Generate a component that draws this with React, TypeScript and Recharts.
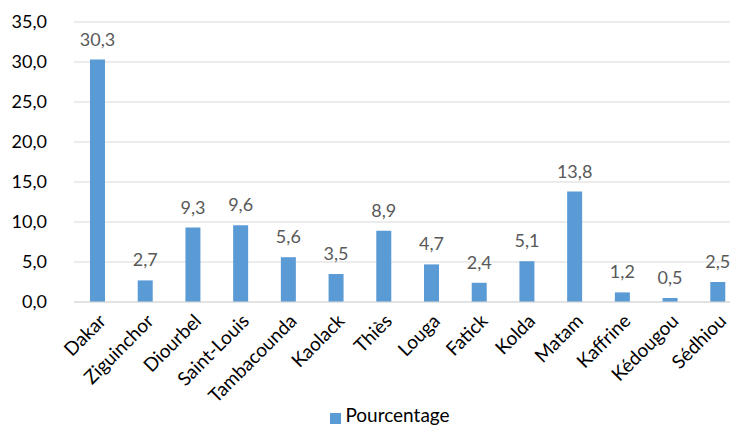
import React from "react";
import {
  BarChart,
  Bar,
  XAxis,
  YAxis,
  CartesianGrid,
  Legend,
  LabelList,
} from "recharts";

const regions = [
  "Dakar",
  "Ziguinchor",
  "Diourbel",
  "Saint-Louis",
  "Tambacounda",
  "Kaolack",
  "Thiès",
  "Louga",
  "Fatick",
  "Kolda",
  "Matam",
  "Kaffrine",
  "Kédougou",
  "Sédhiou",
];

const pourcentage = [30.3, 2.7, 9.3, 9.6, 5.6, 3.5, 8.9, 4.7, 2.4, 5.1, 13.8, 1.2, 0.5, 2.5];

const yTicks = [0, 5, 10, 15, 20, 25, 30, 35];

const data = regions.map((name, i) => ({ name, value: pourcentage[i] }));

const FONT = "Lato, 'Noto Sans', sans-serif";
const BLUE = "#5B9BD5";

const fmt = (v: number) => v.toFixed(1).replace(".", ",");

function RotatedTick(props: any) {
  const { x, y, payload } = props;
  return (
    <g transform={`translate(${x + 5},${y + 8})`}>
      <text
        transform="rotate(-45)"
        textAnchor="end"
        dy={6}
        fill="#000"
        fontSize={19}
        fontFamily={FONT}
      >
        {payload.value}
      </text>
    </g>
  );
}

export default function App() {
  return (
    <div
      style={{
        position: "absolute",
        top: 0,
        left: 0,
        width: 730,
        height: 427,
        overflow: "hidden",
        background: "#fff",
      }}
    >
      <BarChart
        width={742}
        height={427}
        data={data}
        margin={{ top: 22, right: 0, bottom: 0, left: 0 }}
        barSize={15}
      >
        <CartesianGrid vertical={false} stroke="#d9d9d9" />
        <XAxis
          dataKey="name"
          interval={0}
          height={101}
          tickLine={false}
          axisLine={{ stroke: "#d9d9d9" }}
          tick={<RotatedTick />}
        />
        <YAxis
          width={74}
          domain={[0, 35]}
          ticks={yTicks}
          tickFormatter={fmt}
          axisLine={false}
          tickLine={false}
          tickSize={0}
          tickMargin={27}
          tick={{ fill: "#000", fontSize: 18, fontFamily: FONT }}
        />
        <Legend
          verticalAlign="bottom"
          height={24}
          iconType="square"
          iconSize={11}
          wrapperStyle={{ paddingLeft: 24 }}
          formatter={(v: string) => (
            <span style={{ color: "#000", fontSize: 19, fontFamily: FONT }}>{v}</span>
          )}
        />
        <Bar dataKey="value" name="Pourcentage" fill={BLUE} isAnimationActive={false}>
          <LabelList
            dataKey="value"
            position="top"
            offset={14}
            formatter={(v: any) => fmt(Number(v))}
            fill="#595959"
            fontSize={18}
            fontFamily={FONT}
          />
        </Bar>
      </BarChart>
    </div>
  );
}
